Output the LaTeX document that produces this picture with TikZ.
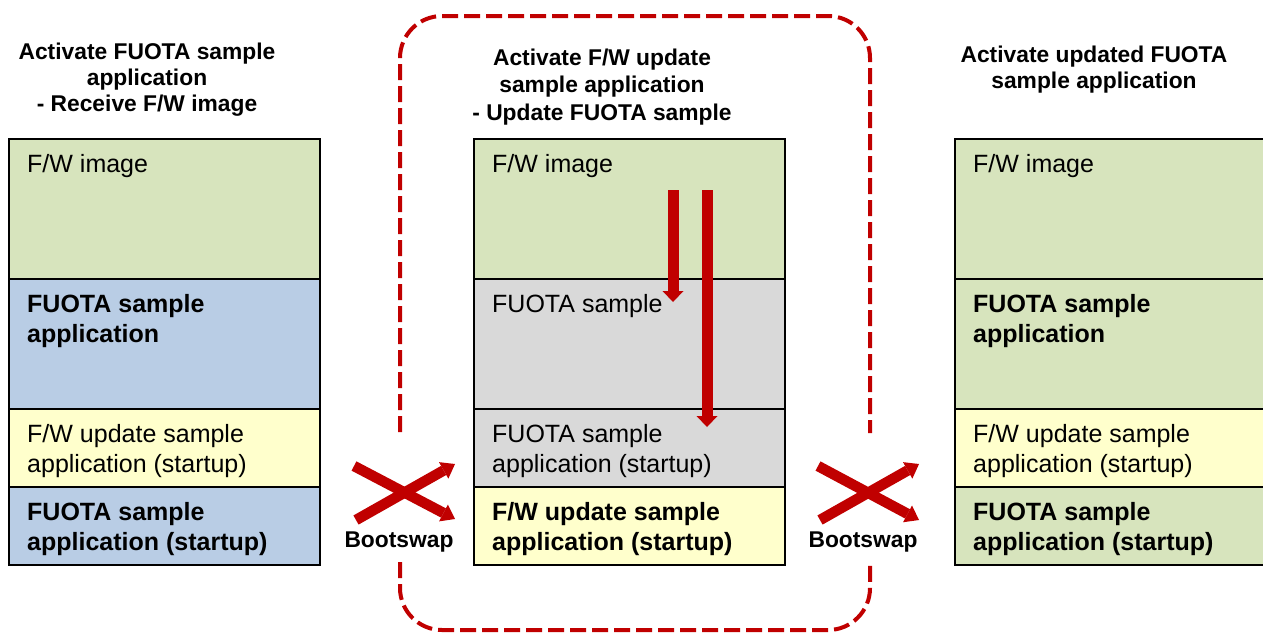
\documentclass[tikz,border=0pt]{standalone}
\usepackage{fontspec}
\setmainfont{Liberation Sans}
\usetikzlibrary{arrows.meta}
\definecolor{cgreen}{HTML}{D7E4BD}
\definecolor{cblue}{HTML}{B9CDE5}
\definecolor{cyellow}{HTML}{FFFFCC}
\definecolor{cgray}{HTML}{D9D9D9}
\definecolor{cred}{HTML}{C00000}
\begin{document}
\begin{tikzpicture}[x=1pt,y=-1pt,
  row/.style={draw=black,line width=1.8pt,rectangle,anchor=north west,inner sep=0pt,minimum width=311pt},
  bodytxt/.style={anchor=base west,inner sep=0pt,font=\fontsize{25}{30}\selectfont},
  boldtxt/.style={anchor=base west,inner sep=0pt,font=\fontsize{25}{30}\selectfont\bfseries},
  ttl/.style={anchor=base,inner sep=0pt,font=\fontsize{22.8}{27}\selectfont\bfseries},
  bigarrow/.style={draw=cred,line width=11pt,-{Triangle[width=21pt,length=11pt,line width=0pt]}},
  swaparrow/.style={draw=cred,line width=10.5pt,-{Triangle[width=19pt,length=13pt,line width=0pt]}},
  dashbox/.style={draw=cred,line width=4pt,dash pattern=on 16pt off 6pt,rounded corners=42pt}
]
\useasboundingbox (0,0) rectangle (1263,633);

% dashed frame (two open parts)
\coordinate (dl1) at (400,432);
\coordinate (dtl) at (400,16);
\coordinate (dtr) at (870,16);
\coordinate (dr1) at (870,433);
\coordinate (dl2) at (400,562);
\coordinate (dbl) at (400,630);
\coordinate (dbr) at (870,630);
\coordinate (dr2) at (870,562);
\draw[dashbox] (dl1) -- (dtl) -- (dtr) -- (dr1);
\draw[dashbox] (dl2) -- (dbl) -- (dbr) -- (dr2);

% titles
\node[ttl] (tL1) at (147,59) {Activate FUOTA sample};
\node[ttl] (tL2) at (147,85) {application};
\node[ttl] (tL3) at (147,111) {- Receive F/W image};
\node[ttl] (tM1) at (602,65) {Activate F/W update};
\node[ttl] (tM2) at (602,92) {sample application};
\node[ttl] (tM3) at (602,120) {- Update FUOTA sample};
\node[ttl] (tR1) at (1094,62) {Activate updated FUOTA};
\node[ttl] (tR2) at (1094,88) {sample application};

% left column
\node[row,fill=cgreen,minimum height=140pt] (L1) at (8,138) {};
\node[row,fill=cblue,minimum height=130pt] (L2) at (8,278) {};
\node[row,fill=cyellow,minimum height=78pt] (L3) at (8,408) {};
\node[row,fill=cblue,minimum height=78pt] (L4) at (8,486) {};
\node[bodytxt] (L1a) at (27,172) {F/W image};
\node[boldtxt] (L2a) at (27,312) {FUOTA sample};
\node[boldtxt] (L2b) at (27,342) {application};
\node[bodytxt] (L3a) at (27,442) {F/W update sample};
\node[bodytxt] (L3b) at (27,472) {application (startup)};
\node[boldtxt] (L4a) at (27,520) {FUOTA sample};
\node[boldtxt] (L4b) at (27,550) {application (startup)};

% middle column
\node[row,fill=cgreen,minimum height=140pt] (M1) at (473,138) {};
\node[row,fill=cgray,minimum height=130pt] (M2) at (473,278) {};
\node[row,fill=cgray,minimum height=78pt] (M3) at (473,408) {};
\node[row,fill=cyellow,minimum height=78pt] (M4) at (473,486) {};
\node[bodytxt] (M1a) at (492,172) {F/W image};
\node[bodytxt] (M2a) at (492,312) {FUOTA sample};
\node[bodytxt] (M3a) at (492,442) {FUOTA sample};
\node[bodytxt] (M3b) at (492,472) {application (startup)};
\node[boldtxt] (M4a) at (492,520) {F/W update sample};
\node[boldtxt] (M4b) at (492,550) {application (startup)};

% right column
\node[row,fill=cgreen,minimum height=140pt] (R1) at (954,138) {};
\node[row,fill=cgreen,minimum height=130pt] (R2) at (954,278) {};
\node[row,fill=cyellow,minimum height=78pt] (R3) at (954,408) {};
\node[row,fill=cgreen,minimum height=78pt] (R4) at (954,486) {};
\node[bodytxt] (R1a) at (973,172) {F/W image};
\node[boldtxt] (R2a) at (973,312) {FUOTA sample};
\node[boldtxt] (R2b) at (973,342) {application};
\node[bodytxt] (R3a) at (973,442) {F/W update sample};
\node[bodytxt] (R3b) at (973,472) {application (startup)};
\node[boldtxt] (R4a) at (973,520) {FUOTA sample};
\node[boldtxt] (R4b) at (973,550) {application (startup)};

% update arrows
\coordinate (a1s) at (673,190);
\coordinate (a1e) at (673,302);
\coordinate (a2s) at (707,190);
\coordinate (a2e) at (707,427);
\draw[bigarrow] (a1s) -- (a1e);
\draw[bigarrow] (a2s) -- (a2e);

% bootswap crosses
\coordinate (xl1s) at (354,466);
\coordinate (xl1e) at (455,519);
\coordinate (xl2s) at (356,520);
\coordinate (xl2e) at (455,464);
\draw[swaparrow] (xl1s) -- (xl1e);
\draw[swaparrow] (xl2s) -- (xl2e);
\node[ttl] (bsL) at (399,547) {Bootswap};

\coordinate (xr1s) at (818,466);
\coordinate (xr1e) at (919,520);
\coordinate (xr2s) at (820,520);
\coordinate (xr2e) at (919,464);
\draw[swaparrow] (xr1s) -- (xr1e);
\draw[swaparrow] (xr2s) -- (xr2e);
\node[ttl] (bsR) at (863,547) {Bootswap};
\end{tikzpicture}
\end{document}
